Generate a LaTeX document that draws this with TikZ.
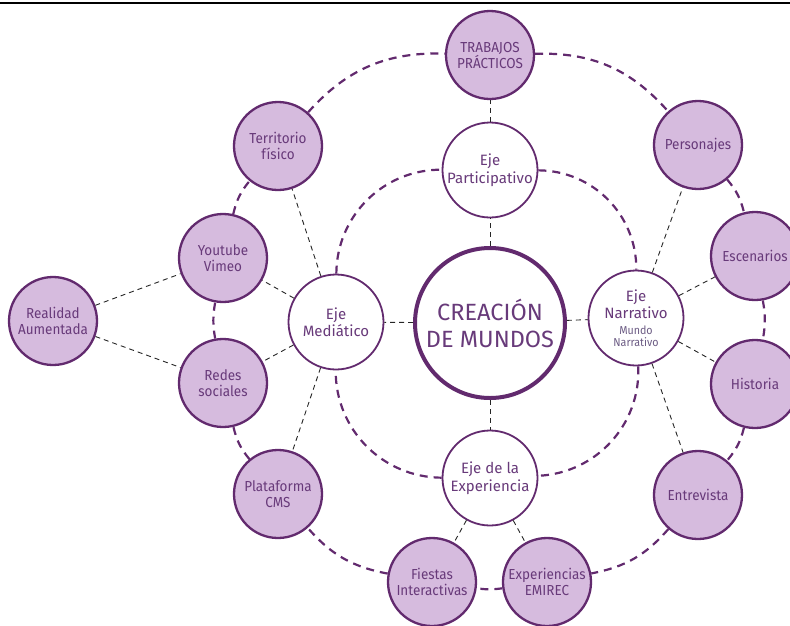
\documentclass[tikz,border=0pt]{standalone}
\usepackage{fontspec}
\setmainfont{Fira Sans}
\newfontfamily\narrowfont{Fira Sans}[FakeStretch=0.93]
\definecolor{ringc}{RGB}{98,42,110}
\definecolor{bubc}{RGB}{214,187,222}
\definecolor{txtc}{RGB}{104,58,122}
\definecolor{subc}{RGB}{108,92,132}
\newcommand{\subtxt}[1]{\textcolor{subc}{\narrowfont\fontsize{11.5}{12.5}\selectfont #1}}
\tikzset{
  outer/.style={circle, draw=ringc, line width=2.3pt, fill=bubc, minimum size=88pt, inner sep=0pt,
    text=txtc, align=center, font=\narrowfont\fontsize{14.5}{16}\selectfont},
  eje/.style={circle, draw=ringc, line width=1.8pt, fill=white, minimum size=95pt, inner sep=0pt,
    text=txtc, align=center, font=\fontsize{15}{17.5}\selectfont},
  hub/.style={circle, draw=ringc, line width=4pt, fill=white, minimum size=150pt, inner sep=0pt,
    text=txtc, align=center, font=\fontsize{23.5}{27}\selectfont},
  ringline/.style={draw=ringc, line width=2.2pt, dash pattern=on 8pt off 6pt},
  spoke/.style={draw=black!85, line width=0.9pt, dash pattern=on 5pt off 4pt},
}
\begin{document}
\begin{tikzpicture}[x=1pt,y=-1pt]
\useasboundingbox (0,0) rectangle (790,625);
\clip (0,0) rectangle (790,625);
\draw[line width=1.5pt] (0,3) -- (790,3);
% hub and axes
\node[hub] (hub) at (490,323) {CREACIÓN\\DE MUNDOS};
\node[eje] (par) at (490,170) {Eje\\Participativo};
\node[eje] (nar) at (636,318) {Eje\\Narrativo\\[-2pt]\subtxt{Mundo}\\[-5pt]\subtxt{Narrativo}};
\node[eje] (exp) at (490,478) {Eje de la\\Experiencia};
\node[eje] (med) at (336,322) {Eje\\Mediático};
% outer nodes
\node[outer] (tra) at (490,55) {TRABAJOS\\PRÁCTICOS};
\node[outer] (per) at (698,145) {Personajes};
\node[outer] (esc) at (755,256) {Escenarios};
\node[outer] (his) at (755,384) {Historia};
\node[outer] (ent) at (698,495) {Entrevista};
\node[outer] (emi) at (547,582) {Experiencias\\EMIREC};
\node[outer] (fie) at (432,582) {Fiestas\\Interactivas};
\node[outer] (pla) at (278,494) {Plataforma\\CMS};
\node[outer] (red) at (223,383) {Redes\\sociales};
\node[outer] (you) at (223,258) {Youtube\\Vimeo};
\node[outer] (ter) at (278,146) {Territorio\\físico};
\node[outer] (rea) at (53,321) {Realidad\\Aumentada};
% outer ring
\draw[ringline] (tra) to[bend left=25] (per);
\draw[ringline] (per) to[bend left=13] (esc);
\draw[ringline] (esc) to[bend left=10] (his);
\draw[ringline] (his) to[bend left=13] (ent);
\draw[ringline] (ent) to[bend left=19] (emi);
\draw[ringline] (emi) to[bend left=8] (fie);
\draw[ringline] (fie) to[bend left=19] (pla);
\draw[ringline] (pla) to[bend left=13] (red);
\draw[ringline] (red) to[bend left=10] (you);
\draw[ringline] (you) to[bend left=13] (ter);
\draw[ringline] (ter) to[bend left=25] (tra);
% inner ring
\draw[ringline] (par) to[bend left=45] (nar);
\draw[ringline] (nar) to[bend left=45] (exp);
\draw[ringline] (exp) to[bend left=45] (med);
\draw[ringline] (med) to[bend left=45] (par);
% spokes
\draw[spoke] (hub) -- (par);
\draw[spoke] (hub) -- (nar);
\draw[spoke] (hub) -- (exp);
\draw[spoke] (hub) -- (med);
\draw[spoke] (par) -- (tra);
\draw[spoke] (med) -- (ter);
\draw[spoke] (med) -- (you);
\draw[spoke] (med) -- (red);
\draw[spoke] (med) -- (pla);
\draw[spoke] (rea) -- (you);
\draw[spoke] (rea) -- (red);
\draw[spoke] (nar) -- (per);
\draw[spoke] (nar) -- (esc);
\draw[spoke] (nar) -- (his);
\draw[spoke] (nar) -- (ent);
\draw[spoke] (exp) -- (fie);
\draw[spoke] (exp) -- (emi);
\end{tikzpicture}
\end{document}
